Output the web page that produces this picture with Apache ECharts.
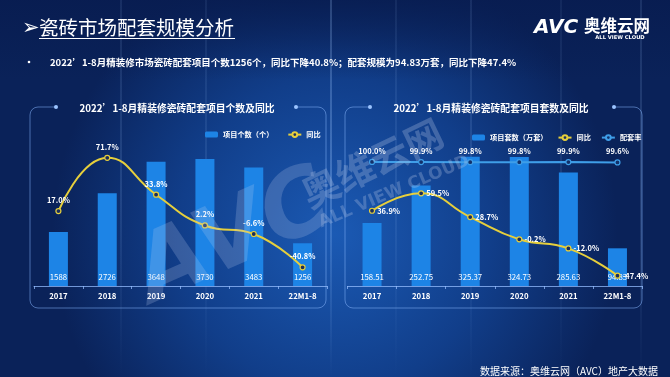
<!DOCTYPE html>
<html>
<head>
<meta charset="utf-8">
<script src="https://cdn.jsdelivr.net/npm/echarts@6/dist/echarts.min.js"></script>
<style>
html,body{margin:0;padding:0;width:670px;height:377px;overflow:hidden;background:#0b2664;}
#c{width:670px;height:377px;}
</style>
</head>
<body>
<div id="c"></div>
<script>
// ---- data ----
var categories = ['2017', '2018', '2019', '2020', '2021', '22M1-8'];
var projectCount = [1588, 2726, 3648, 3730, 3483, 1256];
var projectCountYoY = [17.0, 71.7, 33.8, 2.2, -6.6, -40.8];
var unitSets = [158.51, 252.75, 325.37, 324.73, 285.63, 94.83];
var unitSetsYoY = [36.9, 59.5, 28.7, -0.2, -12.0, -47.4];
var matchRate = [100.0, 99.9, 99.8, 99.8, 99.9, 99.6];

var FONT = '"Noto Sans CJK SC", "Noto Sans", sans-serif';
var BAR = '#1d84e6';
var YEL = '#e6cf3c';
var RATE = '#3f9ee8';
var BORDER = 'rgba(130,175,245,0.55)';

function pct(p) { return p.value.toFixed(1) + '%'; }

function panel(x1, x2, y1, y2, d1, d2) {
  var r = 8, st = { stroke: BORDER, lineWidth: 1, fill: null }, PI = Math.PI;
  function ln(a, b, c, d) { return { type: 'line', shape: { x1: a, y1: b, x2: c, y2: d }, style: st, z: -5 }; }
  function arc(cx, cy, s, e) { return { type: 'arc', shape: { cx: cx, cy: cy, r: r, startAngle: s, endAngle: e, clockwise: true }, style: st, z: -5 }; }
  return [
    ln(x1 + r, y1, d1, y1), ln(d2, y1, x2 - r, y1),
    ln(x1, y1 + r, x1, y2 - r), ln(x2, y1 + r, x2, y2 - r), ln(x1 + r, y2, x2 - r, y2),
    arc(x1 + r, y1 + r, PI, 1.5 * PI), arc(x2 - r, y1 + r, 1.5 * PI, 2 * PI),
    arc(x2 - r, y2 - r, 0, 0.5 * PI), arc(x1 + r, y2 - r, 0.5 * PI, PI),
    { type: 'circle', shape: { cx: d1, cy: y1, r: 2 }, style: { fill: '#9cc4ff' }, z: -5 },
    { type: 'circle', shape: { cx: d2, cy: y1, r: 2 }, style: { fill: '#9cc4ff' }, z: -5 }
  ];
}

var streaks = [];
[[120, 0.10], [205, 0.08], [330, 0.22], [395, 0.08], [470, 0.10], [560, 0.07], [640, 0.12]].forEach(function (s) {
  streaks.push({
    type: 'rect', shape: { x: s[0], y: 0, width: 2, height: 377 }, z: -9,
    style: { fill: new echarts.graphic.LinearGradient(0, 0, 0, 1, [
      { offset: 0, color: 'rgba(160,200,255,' + s[1] + ')' },
      { offset: 0.5, color: 'rgba(160,200,255,' + (s[1] * 1.4) + ')' },
      { offset: 1, color: 'rgba(160,200,255,0)' }]) }
  });
});

var graphics = [
  { type: 'rect', shape: { x: 0, y: 0, width: 670, height: 377 }, z: -10,
    style: { fill: new echarts.graphic.RadialGradient(0.5, 0.62, 0.75, [
      { offset: 0, color: '#1b5ab4' }, { offset: 0.55, color: '#113e8a' }, { offset: 1, color: '#0a2259' }]) } },
  { type: 'rect', shape: { x: 0, y: 0, width: 670, height: 80 }, z: -9,
    style: { fill: new echarts.graphic.LinearGradient(0, 0, 0, 1, [
      { offset: 0, color: 'rgba(8,28,80,0.85)' }, { offset: 1, color: 'rgba(8,28,80,0)' }]) } }
].concat(streaks).concat([
  // header
  { type: 'text', x: 22, y: 29, style: { text: '➢', font: 'bold 21px "DejaVu Sans", sans-serif', fill: '#ffffff', textVerticalAlign: 'middle' } },
  { type: 'text', x: 39, y: 28, style: { text: '瓷砖市场配套规模分析', font: '19.5px ' + FONT, fill: '#ffffff', textVerticalAlign: 'middle' } },
  { type: 'line', shape: { x1: 39, y1: 38.5, x2: 235, y2: 38.5 }, style: { stroke: '#ffffff', lineWidth: 1.2 } },
  { type: 'circle', shape: { cx: 29, cy: 62, r: 1.3 }, style: { fill: '#ffffff' } },
  { type: 'text', x: 50, y: 62, style: { text: '2022’1-8月精装修市场瓷砖配套项目个数1256个，同比下降40.8%；配套规模为94.83万套，同比下降47.4%',
    font: 'bold 9.5px ' + FONT, fill: '#ffffff', textVerticalAlign: 'middle' } },
  // logo
  { type: 'text', x: 534, y: 28, style: { text: 'AVC', font: 'italic 900 20px "DejaVu Sans", sans-serif', fill: '#ffffff', textVerticalAlign: 'middle' } },
  { type: 'text', x: 584, y: 26, style: { text: '奥维云网', font: 'bold 16.5px ' + FONT, fill: '#ffffff', textVerticalAlign: 'middle' } },
  { type: 'text', x: 620, y: 37.5, style: { text: 'ALL VIEW CLOUD', font: 'bold 5.2px "DejaVu Sans", sans-serif', fill: '#ffffff', textAlign: 'center', textVerticalAlign: 'middle' } },
  // chart titles
  { type: 'text', x: 177, y: 108, style: { text: '2022’1-8月精装修瓷砖配套项目个数及同比', font: 'bold 9.8px ' + FONT, fill: '#ffffff', textAlign: 'center', textVerticalAlign: 'middle' } },
  { type: 'text', x: 491, y: 108, style: { text: '2022’1-8月精装修瓷砖配套项目套数及同比', font: 'bold 9.8px ' + FONT, fill: '#ffffff', textAlign: 'center', textVerticalAlign: 'middle' } },
  // footer
  { type: 'text', x: 658, y: 371, style: { text: '数据来源：奥维云网（AVC）地产大数据', font: '10px ' + FONT, fill: '#ffffff', textAlign: 'right', textVerticalAlign: 'middle' } },
  // watermark
  { type: 'text', x: 235, y: 240, rotation: 0.42, z: 50, style: { text: 'AVC', font: 'italic 900 92px "DejaVu Sans", sans-serif', fill: 'rgba(190,205,235,0.22)', textAlign: 'center', textVerticalAlign: 'middle' } },
  { type: 'text', x: 372, y: 163, rotation: 0.45, z: 50, style: { text: '奥维云网', font: 'bold 38px ' + FONT, fill: 'rgba(190,205,235,0.28)', textAlign: 'center', textVerticalAlign: 'middle' } },
  { type: 'text', x: 394, y: 192, rotation: 0.4, z: 50, style: { text: 'ALL VIEW CLOUD', font: 'bold 17px "DejaVu Sans", sans-serif', fill: 'rgba(190,205,235,0.28)', textAlign: 'center', textVerticalAlign: 'middle' } }
]).concat(panel(30, 326, 107, 308, 56, 296)).concat(panel(345, 642, 107, 308, 370, 614));

var axisCommon = {
  type: 'category', data: categories,
  axisLine: { lineStyle: { color: 'rgba(150,190,255,0.75)' } },
  axisTick: { show: true, length: 3, lineStyle: { color: 'rgba(150,190,255,0.75)' } },
  axisLabel: { color: '#ffffff', fontSize: 7.8, fontWeight: 'bold', fontFamily: FONT, margin: 6 }
};
function hiddenY(grid, min, max) {
  return { type: 'value', gridIndex: grid, min: min, max: max, show: false, splitLine: { show: false } };
}
var barLabel = { show: true, position: 'insideBottom', distance: 5, color: '#ffffff', fontSize: 7.8, fontFamily: FONT };
var lineLabelStyle = { color: '#ffffff', fontSize: 7.5, fontWeight: 'bold', fontFamily: FONT, formatter: pct };
var legendText = { color: '#ffffff', fontSize: 7.2, fontWeight: 'bold', fontFamily: FONT };

var option = {
  animation: false,
  textStyle: { fontFamily: FONT },
  graphic: graphics,
  grid: [
    { left: 34, right: 343, top: 140, bottom: 91 },
    { left: 347.5, right: 28, top: 140, bottom: 91 }
  ],
  legend: [
    { left: 200, top: 126, itemWidth: 13, itemHeight: 6, itemGap: 14, textStyle: legendText,
      data: ['项目个数（个）', '同比L'],
      formatter: function (n) { return n.replace(/[LR]$/, ''); } },
    { left: 467, top: 129, itemWidth: 13, itemHeight: 6, itemGap: 10, textStyle: legendText,
      data: ['项目套数（万套）', '同比R', '配套率'],
      formatter: function (n) { return n.replace(/[LR]$/, ''); } }
  ],
  xAxis: [
    Object.assign({ gridIndex: 0 }, axisCommon),
    Object.assign({ gridIndex: 1 }, axisCommon)
  ],
  yAxis: [
    hiddenY(0, 0, 4290),
    hiddenY(0, -60, 90),
    hiddenY(1, 0, 367.3),
    hiddenY(1, -60.8, 128.8),
    hiddenY(1, 0, 117.7)
  ],
  series: [
    { name: '项目个数（个）', type: 'bar', xAxisIndex: 0, yAxisIndex: 0, data: projectCount, barWidth: 19,
      itemStyle: { color: BAR }, label: barLabel },
    { name: '同比L', type: 'line', xAxisIndex: 0, yAxisIndex: 1, data: projectCountYoY, smooth: 0.5,
      lineStyle: { color: YEL, width: 2 }, symbol: 'circle', symbolSize: 5,
      itemStyle: { color: '#1b2e5c', borderColor: YEL, borderWidth: 1.2 },
      label: Object.assign({ show: true, position: 'top', distance: 4 }, lineLabelStyle) },
    { name: '项目套数（万套）', type: 'bar', xAxisIndex: 1, yAxisIndex: 2, data: unitSets, barWidth: 19,
      itemStyle: { color: BAR }, label: barLabel },
    { name: '同比R', type: 'line', xAxisIndex: 1, yAxisIndex: 3, data: unitSetsYoY, smooth: 0.5,
      lineStyle: { color: YEL, width: 2 }, symbol: 'circle', symbolSize: 5,
      itemStyle: { color: '#1b2e5c', borderColor: YEL, borderWidth: 1.2 },
      label: Object.assign({ show: true, position: 'right', distance: 2 }, lineLabelStyle) },
    { name: '配套率', type: 'line', xAxisIndex: 1, yAxisIndex: 4, data: matchRate,
      lineStyle: { color: RATE, width: 2 }, symbol: 'circle', symbolSize: 5,
      itemStyle: { color: '#12306a', borderColor: RATE, borderWidth: 1.2 },
      label: Object.assign({ show: true, position: 'top', distance: 4 }, lineLabelStyle) }
  ]
};

var chart = echarts.init(document.getElementById('c'), null, { renderer: 'canvas', width: 670, height: 377 });
chart.setOption(option);
</script>
</body>
</html>
